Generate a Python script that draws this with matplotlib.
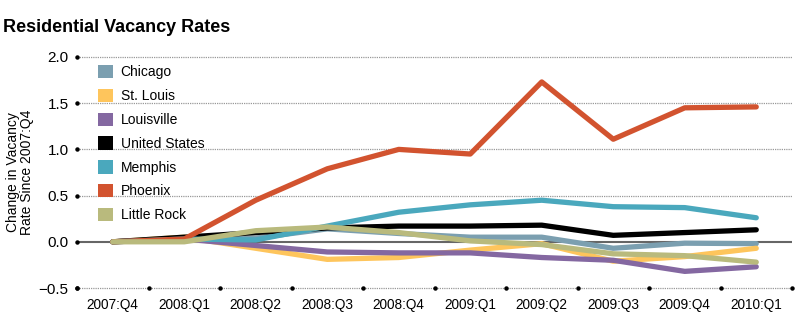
import matplotlib
matplotlib.use('Agg')
from matplotlib import pyplot as plt
from matplotlib.patches import Patch
import numpy as np

plt.rcParams['font.family'] = ['Liberation Sans', 'DejaVu Sans']

quarters = ['2007:Q4', '2008:Q1', '2008:Q2', '2008:Q3', '2008:Q4',
            '2009:Q1', '2009:Q2', '2009:Q3', '2009:Q4', '2010:Q1']

chicago = [0.0, 0.03, 0.04, 0.14, 0.09, 0.05, 0.05, -0.07, -0.015, -0.02]
st_louis = [0.0, 0.05, -0.07, -0.19, -0.17, -0.09, -0.02, -0.21, -0.16, -0.07]
louisville = [0.0, 0.03, -0.04, -0.11, -0.12, -0.12, -0.17, -0.2, -0.32, -0.27]
united_states = [0.0, 0.05, 0.1, 0.15, 0.17, 0.17, 0.18, 0.07, 0.1, 0.13]
memphis = [0.0, 0.03, 0.02, 0.17, 0.32, 0.4, 0.45, 0.38, 0.37, 0.26]
phoenix = [0.0, 0.03, 0.45, 0.79, 1.0, 0.95, 1.73, 1.11, 1.45, 1.46]
little_rock = [0.0, 0.0, 0.12, 0.16, 0.1, 0.01, -0.03, -0.13, -0.15, -0.22]

names = ['Chicago', 'St. Louis', 'Louisville', 'United States',
         'Memphis', 'Phoenix', 'Little Rock']
series = [chicago, st_louis, louisville, united_states,
          memphis, phoenix, little_rock]
colors = ['#7b9fb0', '#fec55c', '#8468a1', '#000000',
          '#4aa8bd', '#d2532f', '#b9ba7d']

fig = plt.figure(figsize=(8, 3.16), dpi=100)
ax = fig.add_axes([77 / 800, 1 - 288 / 316, 715 / 800, 231 / 316])

x = np.arange(len(quarters))
ax.set_xlim(-0.5, 9.5)
ax.set_ylim(-0.5, 2.0)

# gridlines
yticks = [-0.5, 0.0, 0.5, 1.0, 1.5, 2.0]
for yv in yticks:
    if yv == 0:
        ax.axhline(0, color='#666666', lw=1.5, zorder=1)
    else:
        ax.axhline(yv, color='#999999', lw=0.9, ls=(0, (1, 0.8)), zorder=1, clip_on=False)

for vals, c in zip(series, colors):
    ax.plot(x, vals, color=c, lw=3.8, solid_capstyle='round',
            solid_joinstyle='round', zorder=3)

# dot ticks
ax.plot(np.full(len(yticks), -0.5), yticks, 'o', color='black', ms=2.2, clip_on=False, zorder=4)
ax.plot(np.arange(-0.5, 10, 1.0), np.full(11, -0.5), 'o', color='black', ms=2.2, clip_on=False, zorder=4)

for s in ax.spines.values():
    s.set_visible(False)
ax.set_yticks(yticks)
ax.set_yticklabels(['\u22120.5', '0.0', '0.5', '1.0', '1.5', '2.0'], fontsize=11)
ax.set_xticks(x)
ax.set_xticklabels(quarters, fontsize=9.8)
ax.tick_params(length=0, pad=6)
ax.tick_params(axis='x', pad=7)

ax.set_ylabel('Change in Vacancy\nRate Since 2007:Q4', fontsize=10, linespacing=1.05, labelpad=3)

handles = [Patch(facecolor=c, edgecolor='none') for c in colors]
ax.legend(handles, names, loc='upper left', bbox_to_anchor=(0.022, 0.99),
          frameon=False, fontsize=10, handlelength=1.05, handleheight=1.1,
          handletextpad=0.55, labelspacing=0.68, borderaxespad=0)

fig.text(0.004, 0.912, 'Residential Vacancy Rates', fontsize=13, fontweight='bold', va='center')

fig.savefig('out.png', dpi=100)
